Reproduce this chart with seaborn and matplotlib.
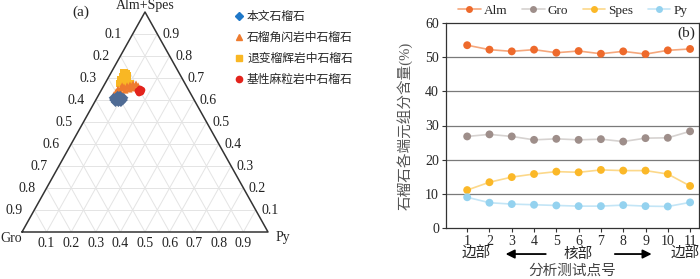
"""
石榴石成分：三角图 + 环带剖面图
"""

import numpy as np
import pandas as pd
import matplotlib
matplotlib.use('Agg')
import matplotlib.pyplot as plt
from matplotlib.lines import Line2D
import seaborn as sns

# ---- 三角图数据 (Alm+Spes, Py, Gro 分数) ----
this_as = [0.60, 0.61, 0.62, 0.62, 0.61, 0.60, 0.59, 0.59, 0.59, 0.60, 0.61, 0.60, 0.61, 0.61]
this_py = [0.074, 0.075, 0.079, 0.089, 0.102, 0.111, 0.107, 0.097, 0.085, 0.086, 0.096, 0.097, 0.067, 0.108]
this_gro = [0.326, 0.315, 0.301, 0.291, 0.288, 0.289, 0.303, 0.313, 0.325, 0.314, 0.294, 0.303, 0.323, 0.282]

amph_as = [0.623, 0.636, 0.650, 0.655, 0.659, 0.664, 0.668, 0.673, 0.673, 0.664, 0.655, 0.650, 0.645, 0.641, 0.627, 0.664, 0.659]
amph_py = [0.062, 0.064, 0.065, 0.075, 0.085, 0.095, 0.105, 0.115, 0.127, 0.140, 0.128, 0.110, 0.096, 0.078, 0.073, 0.075, 0.114]
amph_gro = [0.315, 0.300, 0.285, 0.270, 0.256, 0.241, 0.227, 0.212, 0.200, 0.196, 0.217, 0.240, 0.259, 0.281, 0.300, 0.261, 0.227]

ecl_as = [0.723, 0.718, 0.705, 0.700, 0.691, 0.686, 0.691, 0.677, 0.677, 0.673, 0.709]
ecl_py = [0.053, 0.064, 0.058, 0.073, 0.057, 0.072, 0.085, 0.101, 0.060, 0.082, 0.073]
ecl_gro = [0.224, 0.218, 0.237, 0.227, 0.252, 0.242, 0.224, 0.222, 0.263, 0.245, 0.218]

gran_as = [0.650, 0.636, 0.632, 0.645, 0.641]
gran_py = [0.155, 0.166, 0.160, 0.165, 0.151]
gran_gro = [0.195, 0.198, 0.208, 0.190, 0.209]

# ---- 剖面数据 (%) ----
points = list(range(1, 12))
alm = [53.5, 52.2, 51.7, 52.2, 51.3, 51.8, 51.0, 51.7, 50.9, 52.0, 52.4]
gro = [26.8, 27.4, 26.8, 25.8, 26.1, 25.8, 26.0, 25.3, 26.3, 26.4, 28.3]
spes = [11.1, 13.4, 14.9, 15.8, 16.5, 16.3, 17.0, 16.8, 16.8, 15.8, 12.3]
py = [9.0, 7.4, 7.0, 6.8, 6.6, 6.4, 6.4, 6.7, 6.4, 6.3, 7.5]

sns.set_theme(style='white')
plt.rcParams['font.family'] = ['Liberation Serif', 'Noto Sans CJK SC']
plt.rcParams['axes.unicode_minus'] = False

fig = plt.figure(figsize=(7.0, 2.79), dpi=100)

# ================= (a) 三角图 =================
W, H = 700, 279
ax1 = fig.add_axes([22 / W, (H - 232) / H, 246 / W, 220 / H])
ax1.set_xlim(0, 1)
ax1.set_ylim(0, 1)
ax1.axis('off')


def to_xy(a, p):
    a = np.asarray(a)
    p = np.asarray(p)
    return p + a / 2, a


# 内部网格
for k in np.arange(0.1, 1.0, 0.1):
    ax1.plot([k / 2, 1 - k / 2], [k, k], color='#e4e4e4', lw=0.7, zorder=1)
    ax1.plot([k, (1 + k) / 2], [0, 1 - k], color='#e4e4e4', lw=0.7, zorder=1)
    ax1.plot([1 - k, (1 - k) / 2], [0, 1 - k], color='#e4e4e4', lw=0.7, zorder=1)

ax1.plot([0, 1, 0.5, 0], [0, 0, 1, 0], color='#333333', lw=1.1, zorder=2,
         clip_on=False)

# 刻度标签
for i in range(1, 10):
    k = i / 10
    lab = f'{k:.1f}'
    # 左边 Gro
    ax1.annotate(lab, ((1 - k) / 2, 1 - k), xytext=(-8, 0), textcoords='offset points',
                 ha='right', va='center', fontsize=10, color='#222222')
    # 右边 Alm+Spes
    ax1.annotate(lab, (1 - k / 2, k), xytext=(4, 0), textcoords='offset points',
                 ha='left', va='center', fontsize=10, color='#222222')
    # 底边 Py
    ax1.annotate(lab, (k, 0), xytext=(0, -8), textcoords='offset points',
                 ha='center', va='center', fontsize=10, color='#222222')

ax1.annotate('Alm+Spes', (0.5, 1), xytext=(0, 5), textcoords='offset points',
             ha='center', va='center', fontsize=10)
ax1.annotate('Gro', (0, 0), xytext=(-8, -5), textcoords='offset points',
             ha='center', va='center', fontsize=10)
ax1.annotate('Py', (1, 0), xytext=(11, -4), textcoords='offset points',
             ha='center', va='center', fontsize=10)
fig.text(81 / W, 1 - 12 / H, '(a)', ha='center', va='center', fontsize=11)

groups = [
    (ecl_as, ecl_py, 's', '#F9B724', 26),
    (amph_as, amph_py, '^', '#EE7B2E', 26),
    (gran_as, gran_py, 'o', '#E3231C', 24),
    (this_as, this_py, 'D', '#4F6B94', 24),
]
for a, p, m, c, s in groups:
    x, y = to_xy(a, p)
    sns.scatterplot(x=x, y=y, marker=m, color=c, s=s, edgecolor='none',
                    ax=ax1, zorder=3, clip_on=False)

leg_items = [('本文石榴石', 'D', '#1F78C8', 4),
             ('石榴角闪岩中石榴石', '^', '#EE7B2E', 5),
             ('退变榴辉岩中石榴石', 's', '#F9B724', 5),
             ('基性麻粒岩中石榴石', 'o', '#E3231C', 4.5)]
handles = [Line2D([], [], ls='none', marker=m, color=c, markersize=ms, label=t)
           for t, m, c, ms in leg_items]
fig.legend(handles=handles, loc='upper left', bbox_to_anchor=(227 / W, 1 - 6 / H),
           frameon=False, fontsize=8.5, handletextpad=0.1, labelspacing=0.78,
           handlelength=1.2, borderaxespad=0)

# ================= (b) 剖面图 =================
ax2 = fig.add_axes([446 / W, (H - 228) / H, 253 / W, 205 / H])

df = pd.DataFrame({'点号': points * 4,
                   '含量': alm + gro + spes + py,
                   '端元': ['Alm'] * 11 + ['Gro'] * 11 + ['Spes'] * 11 + ['Py'] * 11})

line_cols = {'Alm': '#F5A77C', 'Gro': '#D6D2D0', 'Spes': '#FCD88A', 'Py': '#C3E5F6'}
mk_cols = {'Alm': '#EE6A2C', 'Gro': '#9E8E8A', 'Spes': '#FBB828', 'Py': '#94D2EF'}

sns.lineplot(data=df, x='点号', y='含量', hue='端元', palette=line_cols,
             lw=1.2, ax=ax2, legend=False, zorder=2)
sns.scatterplot(data=df, x='点号', y='含量', hue='端元', palette=mk_cols,
                s=32, edgecolor='none', ax=ax2, legend=False, zorder=3)

ax2.set_xlim(0.05, 11.4)
ax2.set_ylim(0, 60)
ax2.set_yticks([0, 10, 20, 30, 40, 50, 60])
ax2.set_xticks(points)
for v in [10, 20, 30, 40, 50]:
    ax2.axhline(v, color='#7a7a7a', lw=0.9, zorder=1)
for s in ax2.spines.values():
    s.set_color('#333333')
    s.set_linewidth(0.9)
ax2.tick_params(axis='both', direction='out', length=3, width=0.8, color='#333333',
                labelsize=10, pad=2, bottom=True, left=True)
ax2.set_xlabel('')
ax2.set_ylabel('石榴石各端元组分含量(%)', fontsize=10.5, color='#555555', labelpad=9)

ax2.text(11.25, 57, '(b)', ha='right', va='center', fontsize=11)

tr = ax2.get_xaxis_transform()
ax2.text(1.4, -0.127, '边部', transform=tr, ha='center', va='center', fontsize=10.5,
         clip_on=False)
ax2.text(5.98, -0.127, '核部', transform=tr, ha='center', va='center', fontsize=10.5,
         clip_on=False)
ax2.text(10.78, -0.127, '边部', transform=tr, ha='center', va='center', fontsize=10.5,
         clip_on=False)
ax2.annotate('', xy=(2.6, -0.127), xytext=(4.65, -0.127), xycoords=tr,
             arrowprops=dict(arrowstyle='-|>', color='black', lw=1.3,
                             mutation_scale=13))
ax2.annotate('', xy=(9.4, -0.127), xytext=(7.5, -0.127), xycoords=tr,
             arrowprops=dict(arrowstyle='-|>', color='black', lw=1.3,
                             mutation_scale=13))
ax2.text(0.5, -0.21, '分析测试点号', transform=ax2.transAxes, ha='center',
         va='center', fontsize=10.5, color='#444444')

leg2 = [Line2D([], [], color=line_cols[k], lw=1.2, marker='o', markersize=5,
               markerfacecolor=mk_cols[k], markeredgecolor='none', label=k)
        for k in ['Alm', 'Gro', 'Spes', 'Py']]
fig.legend(handles=leg2, loc='center', bbox_to_anchor=(573 / W, 1 - 11 / H), ncol=4,
           frameon=False, fontsize=9.5, handlelength=1.7, columnspacing=1.1,
           handletextpad=0.25, borderaxespad=0)

fig.savefig('out.png', dpi=100)
plt.close(fig)
